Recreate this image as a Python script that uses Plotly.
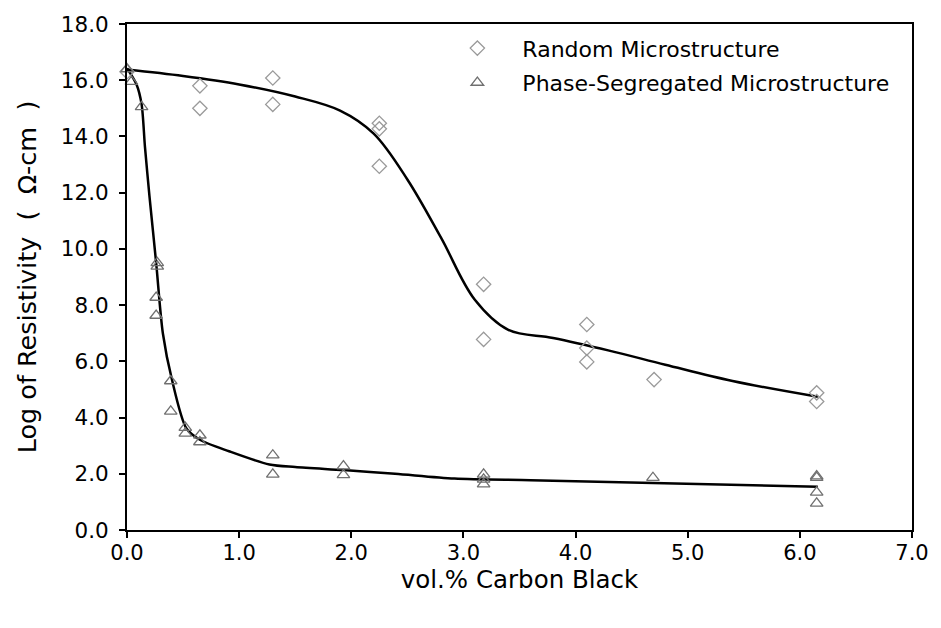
import plotly.graph_objects as go

# Measured data points
random_x = [0.0, 0.65, 0.65, 1.3, 1.3, 2.25, 2.25, 2.25, 3.18, 3.18, 4.1, 4.1, 4.1, 4.7, 6.15, 6.15]
random_y = [16.3, 15.8, 15.0, 16.08, 15.14, 14.47, 14.27, 12.94, 8.74, 6.78, 7.31, 6.47, 5.98, 5.35, 4.88, 4.57]

phase_x = [0.0, 0.04, 0.13, 0.27, 0.27, 0.26, 0.26, 0.39, 0.39, 0.52, 0.52, 0.65, 0.65,
           1.3, 1.3, 1.93, 1.93, 3.18, 3.18, 3.18, 4.69, 6.15, 6.15, 6.15, 6.15]
phase_y = [16.4, 15.95, 15.05, 9.5, 9.38, 8.27, 7.63, 5.3, 4.22, 3.64, 3.44, 3.37, 3.13,
           2.66, 1.98, 2.27, 1.96, 1.98, 1.8, 1.63, 1.86, 1.92, 1.86, 1.34, 0.95]

# Smoothed trend curves
random_fit_x = [0.0, 0.5, 1.0, 1.5, 1.9, 2.2, 2.5, 2.8, 3.1, 3.4, 3.8, 4.3, 4.8, 5.4, 6.16]
random_fit_y = [16.38, 16.15, 15.85, 15.42, 14.92, 14.1, 12.47, 10.4, 8.2, 7.12, 6.83, 6.38, 5.88, 5.3, 4.74]

phase_fit_x = [0.0, 0.085, 0.13, 0.16, 0.2, 0.26, 0.32, 0.40, 0.53, 0.65, 0.91, 1.27, 1.5, 1.93, 2.39, 2.92, 3.6, 4.69, 6.16]
phase_fit_y = [16.43, 15.85, 15.15, 13.64, 11.89, 9.5, 6.99, 5.36, 3.61, 3.21, 2.8, 2.33, 2.24, 2.13, 2.0, 1.83, 1.77, 1.67, 1.54]

x_ticks = [0, 1, 2, 3, 4, 5, 6, 7]
y_ticks = [0, 2, 4, 6, 8, 10, 12, 14, 16, 18]

FONT = "DejaVu Sans"

fig = go.Figure()
fig.add_trace(go.Scatter(x=random_fit_x, y=random_fit_y, mode="lines",
                         line=dict(color="black", width=2.5, shape="spline", smoothing=1.0),
                         showlegend=False, hoverinfo="skip"))
fig.add_trace(go.Scatter(x=phase_fit_x, y=phase_fit_y, mode="lines",
                         line=dict(color="black", width=2.5, shape="spline", smoothing=0.8),
                         showlegend=False, hoverinfo="skip"))
fig.add_trace(go.Scatter(x=random_x, y=random_y, mode="markers", name="Random Microstructure",
                         marker=dict(symbol="diamond-open", size=11, color="#9a9a9a",
                                     line=dict(width=1.3, color="#9a9a9a")),
                         cliponaxis=False, legend="legend"))
fig.add_trace(go.Scatter(x=phase_x, y=phase_y, mode="markers", name="Phase-Segregated Microstructure",
                         marker=dict(symbol="triangle-up-open", size=11, color="#707070",
                                     line=dict(width=1.3, color="#707070")),
                         cliponaxis=False, legend="legend2"))

leg_common = dict(xanchor="left", yanchor="middle", itemwidth=80,
                  font=dict(family=FONT, size=22, color="black"),
                  bgcolor="rgba(0,0,0,0)", itemsizing="trace")

fig.update_layout(
    width=941, height=628,
    margin=dict(l=127, r=23, t=15, b=98),
    paper_bgcolor="white", plot_bgcolor="white",
    font=dict(family=FONT, color="black"),
    legend=dict(x=0.389, y=0.952, **leg_common),
    legend2=dict(x=0.389, y=0.884, **leg_common),
    xaxis=dict(range=[0, 7], tickvals=x_ticks, tickformat=".1f",
               showgrid=False, zeroline=False,
               showline=True, linecolor="black", linewidth=2, mirror=True,
               ticks="outside", ticklen=6, tickwidth=2, tickcolor="black",
               ticklabelstandoff=-3,
               tickfont=dict(family=FONT, size=21, color="black"),
               title=dict(text="vol.% Carbon Black", font=dict(family=FONT, size=24.5), standoff=5)),
    yaxis=dict(range=[0, 18], tickvals=y_ticks, tickformat=".1f",
               showgrid=False, zeroline=False,
               showline=True, linecolor="black", linewidth=2, mirror=True,
               ticks="outside", ticklen=6, tickwidth=2, tickcolor="black",
               ticklabelstandoff=6,
               tickfont=dict(family=FONT, size=21.5, color="black"),
               title=dict(text="Log of Resistivity  (  Ω-cm  )", font=dict(family=FONT, size=25.5), standoff=17)),
)

fig.write_html("out.html")
